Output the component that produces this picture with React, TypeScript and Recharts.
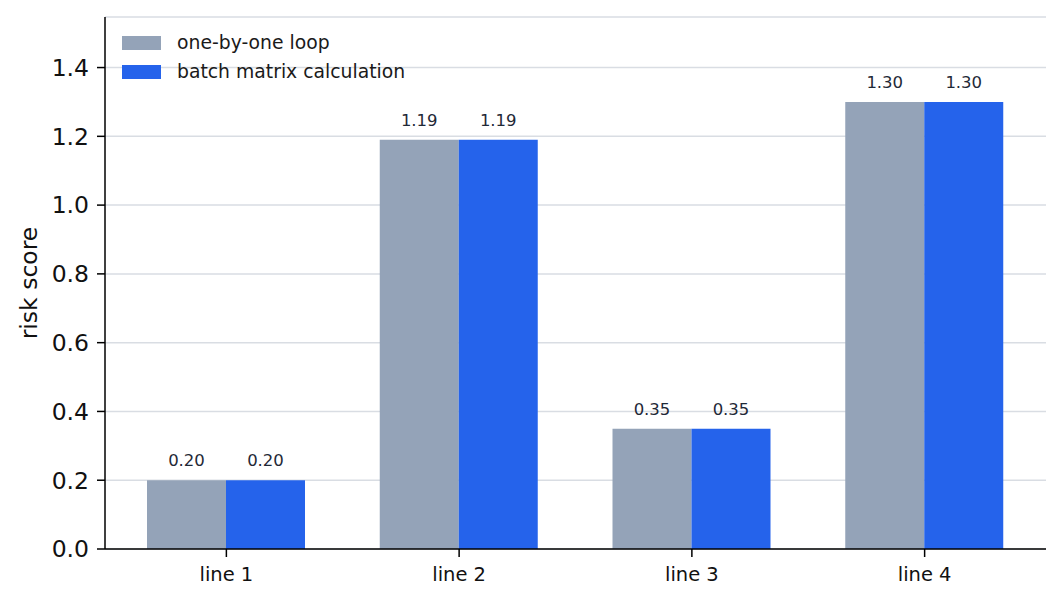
import { BarChart, Bar, XAxis, YAxis, CartesianGrid, Legend, LabelList } from "recharts";

const categories = ["line 1", "line 2", "line 3", "line 4"];
const loopScores = [0.2, 1.19, 0.35, 1.3];
const batchScores = [0.2, 1.19, 0.35, 1.3];
const yTicks = [0, 0.2, 0.4, 0.6, 0.8, 1.0, 1.2, 1.4];
const seriesOrder = ["loop", "batch"];

const data = categories.map((name, i) => ({
  name,
  loop: loopScores[i],
  batch: batchScores[i],
}));

const FONT = "DejaVu Sans";

function renderYLabel(props: any) {
  const vb = props.viewBox || { x: 0, y: 0, height: 0 };
  const cx = 29;
  const cy = vb.y + vb.height / 2;
  return (
    <text
      x={cx}
      y={cy}
      transform={`rotate(-90 ${cx} ${cy})`}
      textAnchor="middle"
      dominantBaseline="central"
      fontFamily={FONT}
      fontSize={23.5}
      fill="#111"
    >
      risk score
    </text>
  );
}

function renderLegend(props: any) {
  const items = [...(props.payload || [])].sort(
    (a: any, b: any) => seriesOrder.indexOf(a.dataKey) - seriesOrder.indexOf(b.dataKey)
  );
  return (
    <div style={{ fontFamily: FONT, fontSize: 18.8, color: "#1a1a1a" }}>
      {items.map((item: any) => (
        <div
          key={item.value}
          style={{ display: "flex", alignItems: "center", height: 29 }}
        >
          <span
            style={{
              display: "inline-block",
              width: 39,
              height: 14,
              background: item.color,
              marginRight: 16,
            }}
          />
          <span>{item.value}</span>
        </div>
      ))}
    </div>
  );
}

export default function App() {
  return (
    <div style={{ position: "absolute", left: 0, top: 0, background: "#fff" }}>
      <BarChart
        width={1062}
        height={603}
        data={data}
        margin={{ top: 17, right: 16, left: 0, bottom: 0 }}
        barGap={0}
      >
        <CartesianGrid
          vertical={false}
          stroke="#d9dde3"
          strokeWidth={1.5}
        />
        <XAxis
          dataKey="name"
          height={54}
          padding={{ left: 5, right: 5 }}
          tickSize={8}
          tickMargin={10}
          axisLine={{ stroke: "#000", strokeWidth: 1.5 }}
          tickLine={{ stroke: "#000", strokeWidth: 1.5 }}
          tick={{ fontFamily: FONT, fontSize: 19.5, fill: "#111" }}
        />
        <YAxis
          width={105}
          domain={[0, 1.547]}
          ticks={yTicks}
          allowDataOverflow
          tickFormatter={(v: number) => v.toFixed(1)}
          tickSize={8}
          tickMargin={8}
          axisLine={{ stroke: "#000", strokeWidth: 1.5 }}
          tickLine={{ stroke: "#000", strokeWidth: 1.5 }}
          tick={{ fontFamily: FONT, fontSize: 23.5, fill: "#111" }}
          label={{ value: "risk score", content: renderYLabel }}
        />
        <Legend
          layout="vertical"
          align="center"
          verticalAlign="middle"
          content={renderLegend}
          wrapperStyle={{ top: 28, left: 122, width: "auto" }}
        />
        <Bar
          dataKey="loop"
          name="one-by-one loop"
          fill="#94a3b8"
          barSize={79}
          isAnimationActive={false}
        >
          <LabelList
            dataKey="loop"
            position="top"
            offset={14}
            formatter={(v: any) => Number(v).toFixed(2)}
            style={{ fontFamily: FONT, fontSize: 16.5, fill: "#1f2937" }}
          />
        </Bar>
        <Bar
          dataKey="batch"
          name="batch matrix calculation"
          fill="#2563eb"
          barSize={79}
          isAnimationActive={false}
        >
          <LabelList
            dataKey="batch"
            position="top"
            offset={14}
            formatter={(v: any) => Number(v).toFixed(2)}
            style={{ fontFamily: FONT, fontSize: 16.5, fill: "#1f2937" }}
          />
        </Bar>
      </BarChart>
    </div>
  );
}
